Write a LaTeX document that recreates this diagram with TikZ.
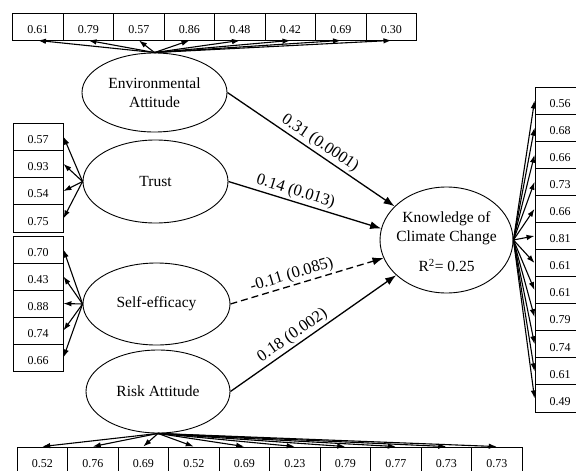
\documentclass[tikz,border=0pt]{standalone}
\usepackage{fontspec}
\setmainfont{Liberation Serif}
\usetikzlibrary{arrows.meta,shapes.geometric}
\begin{document}
\begin{tikzpicture}[x=1pt,y=-1pt,
  latent/.style={ellipse,draw,line width=0.9pt,inner sep=0pt,align=center,font=\fontsize{15.5}{18.5}\selectfont},
  ind/.style={draw,line width=0.9pt,minimum width=50.5pt,minimum height=27pt,inner sep=0pt,
    text height=13.6pt,text depth=0pt,font=\fontsize{12}{14}\selectfont},
  load/.style={line width=1.1pt,-{Latex[length=8pt,width=5.5pt]}},
  effect/.style={line width=1.3pt,-{Latex[length=11pt,width=8pt]}},
  plabel/.style={sloped,above,font=\fontsize{16.5}{19}\selectfont,inner sep=2pt}]
\clip (0,0) rectangle (576,471);
\fill[white] (0,0) rectangle (576,471);
% latent variables
\node[latent,minimum width=145pt,minimum height=79pt] (env) at (154.5,92.5) {Environmental\\Attitude};
\node[latent,minimum width=145pt,minimum height=83pt] (trust) at (155.5,181.5) {Trust};
\node[latent,minimum width=147pt,minimum height=82pt] (se) at (156.5,304) {Self-efficacy};
\node[latent,minimum width=144pt,minimum height=83pt] (risk) at (158,391.5) {Risk Attitude};
\node[ellipse,draw,line width=0.9pt,inner sep=0pt,minimum width=133pt,minimum height=106pt] (kn) at (446.5,240) {};
\node[align=center,font=\fontsize{15.5}{18.5}\selectfont,inner sep=0pt] (kntext) at (446.5,242)
  {Knowledge of\\Climate Change\\[12pt]R\textsuperscript{2}= 0.25};
% top indicators
\foreach \v [count=\i] in {0.61,0.79,0.57,0.86,0.48,0.42,0.69,0.30} {
  \node[ind] (t\i) at ({37.95+50.5*(\i-1)},26.5) {\v};
  \draw[load] (env.north) -- (t\i.south);
}
% bottom indicators
\foreach \v [count=\i] in {0.52,0.76,0.69,0.52,0.69,0.23,0.79,0.77,0.73,0.73} {
  \node[ind] (b\i) at ({42.25+50.5*(\i-1)},460.5) {\v};
  \draw[load] (risk.south) -- (b\i.north);
}
% trust indicators
\foreach \v [count=\i] in {0.57,0.93,0.54,0.75} {
  \node[ind,minimum width=50pt,minimum height=27.25pt] (tr\i) at (38,{136.6+27.25*(\i-1)}) {\v};
  \draw[load] (trust.west) -- (tr\i.east);
}
% self-efficacy indicators
\foreach \v [count=\i] in {0.70,0.43,0.88,0.74,0.66} {
  \node[ind,minimum width=50pt] (s\i) at (38,{249.5+27*(\i-1)}) {\v};
  \draw[load] (se.west) -- (s\i.east);
}
% knowledge indicators
\foreach \v [count=\i] in {0.56,0.68,0.66,0.73,0.66,0.81,0.61,0.61,0.79,0.74,0.61,0.49} {
  \node[ind,minimum width=50pt,minimum height=27.08pt] (k\i) at (560,{100.54+27.08*(\i-1)}) {\v};
  \draw[load] (kn.east) -- (k\i.west);
}
% structural paths
\draw[effect] (env.east) -- node[plabel,pos=0.52] {0.31 (0.0001)} (kn.147);
\draw[effect] (trust.east) -- node[plabel,pos=0.42] {0.14 (0.013)} (kn.170);
\draw[effect,dash pattern=on 7pt off 4pt] (se.east) -- node[plabel,pos=0.42] {-0.11 (0.085)} (kn.196);
\draw[effect] (risk.east) -- node[plabel,pos=0.41] {0.18 (0.002)} (kn.215);
\end{tikzpicture}
\end{document}
